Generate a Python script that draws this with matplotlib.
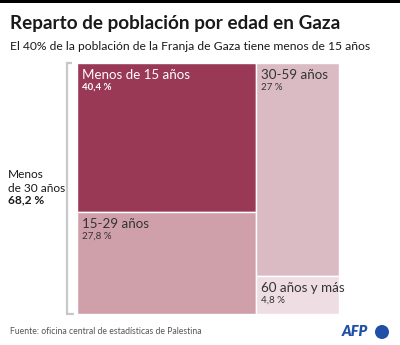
import matplotlib
matplotlib.use("Agg")
import matplotlib.pyplot as plt
from matplotlib.patches import Rectangle, Circle

plt.rcParams['font.family'] = ['Lato', 'DejaVu Sans']

# Population shares by age group (percent)
groups = ["Menos de 15 años", "15-29 años", "30-59 años", "60 años y más"]
shares = [40.4, 27.8, 27.0, 4.8]
share_labels = ["40,4 %", "27,8 %", "27 %", "4,8 %"]
colors = ["#993956", "#d0a0aa", "#dbbbc3", "#eedde3"]
under30_label = "68,2 %"

W, H = 400, 345
fig = plt.figure(figsize=(W / 100, H / 100), dpi=100)

# Overlay in pixel coordinates for titles and annotations
ov = fig.add_axes([0, 0, 1, 1])
ov.set_xlim(0, W)
ov.set_ylim(H, 0)
ov.axis("off")

ov.add_patch(Rectangle((0, 0), W, 3, color="black", lw=0))
ov.text(10, 23.5, "Reparto de población por edad en Gaza", fontsize=13.6,
        fontweight="bold", color="#1a1a1a", va="center", ha="left")
ov.text(10, 46, "El 40% de la población de la Franja de Gaza tiene menos de 15 años",
        fontsize=8.7, color="#1a1a1a", va="center", ha="left")

# Treemap area (pixels)
tx0, ty0, tx1, ty1 = 77, 63, 339, 314
tm = fig.add_axes([tx0 / W, 1 - ty1 / H, (tx1 - tx0) / W, (ty1 - ty0) / H])
tm.set_xlim(0, 1)
tm.set_ylim(1, 0)
tm.axis("off")

total = sum(shares)
left_w = (shares[0] + shares[1]) / total
right_w = (shares[2] + shares[3]) / total
top_left_h = shares[0] / (shares[0] + shares[1])
top_right_h = shares[2] / (shares[2] + shares[3])

rects = [
    (0, 0, left_w, top_left_h),
    (0, top_left_h, left_w, 1 - top_left_h),
    (left_w, 0, right_w, top_right_h),
    (left_w, top_right_h, right_w, 1 - top_right_h),
]
text_colors = ["white", "#333333", "#333333", "#333333"]
for (x, y, w, h), c, name, lab, tc in zip(rects, colors, groups, share_labels, text_colors):
    tm.add_patch(Rectangle((x, y), w, h, facecolor=c, edgecolor="white", lw=1.0))
    tm.annotate(name, (x, y), xytext=(5, -6), textcoords="offset pixels",
                fontsize=9.6, color=tc, va="top", ha="left")
    tm.annotate(lab, (x, y), xytext=(5, -20), textcoords="offset pixels",
                fontsize=7.0, color=tc, va="top", ha="left",
                fontweight="bold" if tc == "white" else "normal")

# Bracket for the under-30 group
bc = "#c8c8c8"
ov.plot([72, 66.5, 66.5, 74], [62.5, 62.5, 314, 314], color=bc, lw=1.6,
        solid_capstyle="butt", solid_joinstyle="miter")
ov.text(8, 175, "Menos", fontsize=8.6, color="#1a1a1a", va="center")
ov.text(8, 188, "de 30 años", fontsize=8.6, color="#1a1a1a", va="center")
ov.text(8, 200, under30_label, fontsize=8.6, fontweight="bold", color="#1a1a1a", va="center")

# Footer
ov.text(10, 332, "Fuente: oficina central de estadísticas de Palestina",
        fontsize=6.2, color="#555555", va="center", ha="left")
ov.text(368, 332, "AFP", fontsize=10.5, fontweight="heavy", fontstyle="italic",
        color="#1f4fa6", va="center", ha="right")
ov.add_patch(Circle((382, 332), 7, color="#1f4fa6", lw=0))

fig.savefig("out.png", dpi=100)
